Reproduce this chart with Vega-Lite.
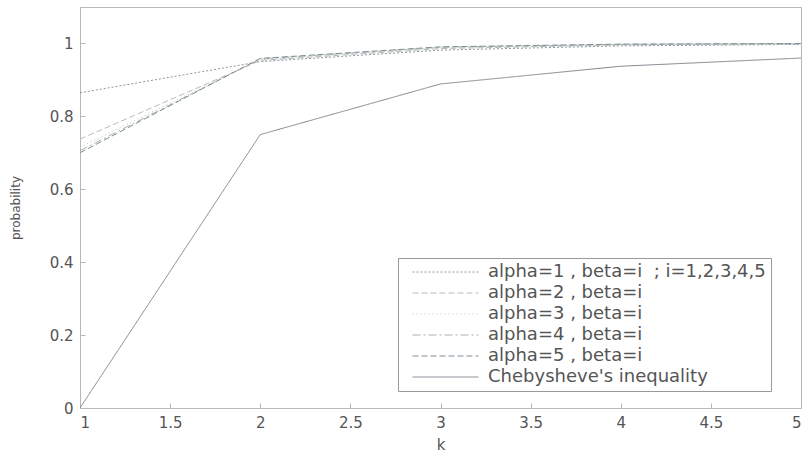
{
  "$schema": "https://vega.github.io/schema/vega-lite/v6.json",
  "width": 721,
  "height": 401,
  "autosize": "none",
  "padding": {"left": 80, "top": 7, "right": 6, "bottom": 44},
  "background": "white",
  "config": {
    "font": "DejaVu Sans",
    "view": {"stroke": "#b4b8bc", "strokeWidth": 1}
  },
  "data": {
    "values": [
      {"k": 1, "p": 0.8647, "series": "alpha=1 , beta=i\u00a0\u00a0; i=1,2,3,4,5"},
      {"k": 2, "p": 0.9502, "series": "alpha=1 , beta=i\u00a0\u00a0; i=1,2,3,4,5"},
      {"k": 3, "p": 0.9817, "series": "alpha=1 , beta=i\u00a0\u00a0; i=1,2,3,4,5"},
      {"k": 4, "p": 0.9933, "series": "alpha=1 , beta=i\u00a0\u00a0; i=1,2,3,4,5"},
      {"k": 5, "p": 0.9975, "series": "alpha=1 , beta=i\u00a0\u00a0; i=1,2,3,4,5"},
      {"k": 1, "p": 0.7376, "series": "alpha=2 , beta=i"},
      {"k": 2, "p": 0.9534, "series": "alpha=2 , beta=i"},
      {"k": 3, "p": 0.9859, "series": "alpha=2 , beta=i"},
      {"k": 4, "p": 0.9959, "series": "alpha=2 , beta=i"},
      {"k": 5, "p": 0.9988, "series": "alpha=2 , beta=i"},
      {"k": 1, "p": 0.7153, "series": "alpha=3 , beta=i"},
      {"k": 2, "p": 0.9558, "series": "alpha=3 , beta=i"},
      {"k": 3, "p": 0.9882, "series": "alpha=3 , beta=i"},
      {"k": 4, "p": 0.9971, "series": "alpha=3 , beta=i"},
      {"k": 5, "p": 0.9993, "series": "alpha=3 , beta=i"},
      {"k": 1, "p": 0.7059, "series": "alpha=4 , beta=i"},
      {"k": 2, "p": 0.9576, "series": "alpha=4 , beta=i"},
      {"k": 3, "p": 0.9897, "series": "alpha=4 , beta=i"},
      {"k": 4, "p": 0.9977, "series": "alpha=4 , beta=i"},
      {"k": 5, "p": 0.9995, "series": "alpha=4 , beta=i"},
      {"k": 1, "p": 0.7002, "series": "alpha=5 , beta=i"},
      {"k": 2, "p": 0.9589, "series": "alpha=5 , beta=i"},
      {"k": 3, "p": 0.9907, "series": "alpha=5 , beta=i"},
      {"k": 4, "p": 0.9981, "series": "alpha=5 , beta=i"},
      {"k": 5, "p": 0.9997, "series": "alpha=5 , beta=i"},
      {"k": 1, "p": 0.0, "series": "Chebysheve's inequality"},
      {"k": 2, "p": 0.75, "series": "Chebysheve's inequality"},
      {"k": 3, "p": 0.8889, "series": "Chebysheve's inequality"},
      {"k": 4, "p": 0.9375, "series": "Chebysheve's inequality"},
      {"k": 5, "p": 0.96, "series": "Chebysheve's inequality"}
    ]
  },
  "mark": {"type": "line", "strokeWidth": 1, "clip": true},
  "encoding": {
    "x": {
      "field": "k",
      "type": "quantitative",
      "scale": {"domain": [1, 5], "nice": false, "zero": false},
      "axis": {
        "values": [1, 1.5, 2, 2.5, 3, 3.5, 4, 4.5, 5],
        "format": "~f",
        "grid": false,
        "domainColor": "#b4b8bc",
        "tickColor": "#b4b8bc",
        "tickSize": -5,
        "labelPadding": 12,
        "labelFontSize": 15,
        "labelColor": "#555",
        "title": "k",
        "titleFontSize": 15,
        "titleFontWeight": "normal",
        "titleColor": "#555",
        "titlePadding": 7
      }
    },
    "y": {
      "field": "p",
      "type": "quantitative",
      "scale": {"domain": [0, 1.1], "nice": false},
      "axis": {
        "values": [0, 0.2, 0.4, 0.6, 0.8, 1],
        "format": "~f",
        "grid": false,
        "domainColor": "#b4b8bc",
        "tickColor": "#b4b8bc",
        "tickSize": -5,
        "labelPadding": 12,
        "labelFontSize": 15,
        "labelColor": "#555",
        "title": "probability",
        "titleFontSize": 12,
        "titleFontWeight": "normal",
        "titleColor": "#555",
        "titlePadding": 27
      }
    },
    "color": {
      "field": "series",
      "type": "nominal",
      "scale": {
        "domain": ["alpha=1 , beta=i\u00a0\u00a0; i=1,2,3,4,5", "alpha=2 , beta=i", "alpha=3 , beta=i", "alpha=4 , beta=i", "alpha=5 , beta=i", "Chebysheve's inequality"],
        "range": ["#8c96a2", "#b9bcb4", "#b4bcc0", "#aab4aa", "#7f8e98", "#80868e"]
      },
      "legend": {
        "title": null,
        "orient": "none",
        "legendX": 318,
        "legendY": 251,
        "direction": "vertical",
        "strokeColor": "#999",
        "fillColor": "white",
        "padding": 5,
        "symbolOffset": 9,
        "symbolType": "stroke",
        "symbolSize": 4356,
        "symbolStrokeWidth": 1,
        "clipHeight": 18,
        "labelFontSize": 18,
        "labelColor": "#555",
        "labelOffset": 9,
        "labelLimit": 400,
        "rowPadding": 3
      }
    },
    "strokeDash": {
      "field": "series",
      "type": "nominal",
      "scale": {
        "domain": ["alpha=1 , beta=i\u00a0\u00a0; i=1,2,3,4,5", "alpha=2 , beta=i", "alpha=3 , beta=i", "alpha=4 , beta=i", "alpha=5 , beta=i", "Chebysheve's inequality"],
        "range": [[2, 2], [6, 3], [1, 3], [8, 3, 2, 3], [6, 3], [1, 0]]
      },
      "legend": null
    }
  }
}
